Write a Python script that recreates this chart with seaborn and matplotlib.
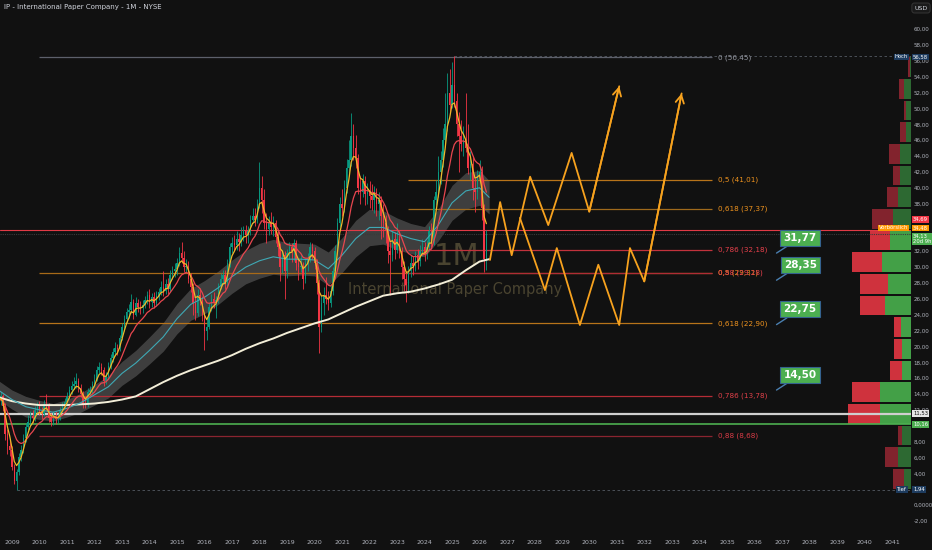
import numpy as np
import pandas as pd
import matplotlib
matplotlib.use("Agg")
import matplotlib.pyplot as plt
import matplotlib.transforms as mtransforms
import seaborn as sns

BG = "#111111"
sns.set_style("dark", {"axes.facecolor": BG, "figure.facecolor": BG})
plt.rcParams["font.family"] = ["DejaVu Sans"]

# ---- monthly candles, Jul 2008 .. Apr 2026 (open = previous close) ----
first_open = 12.5
closes = [
    13.2, 13.8, 12.5, 9.0, 7.5, 7.0,                                        # 2008 H2
    4.8, 3.0, 4.2, 6.0, 7.0, 8.5, 9.8, 10.5, 11.2, 11.0, 12.0, 12.4,         # 2009
    11.8, 11.5, 12.8, 12.5, 11.0, 10.5, 11.2, 10.8, 10.9, 12.0, 12.5, 13.0,  # 2010
    13.8, 14.5, 15.0, 15.2, 15.6, 14.8, 14.0, 12.8, 12.6, 14.3, 14.5, 15.3,  # 2011
    15.8, 17.0, 17.4, 17.0, 15.6, 16.2, 17.5, 18.5, 19.3, 19.8, 19.7, 21.0,  # 2012
    22.5, 23.5, 24.3, 24.6, 25.6, 24.0, 25.5, 25.0, 24.8, 25.2, 25.8, 26.5,  # 2013
    25.6, 26.2, 25.5, 26.4, 26.8, 27.5, 27.0, 27.9, 27.3, 29.0, 29.5, 29.8,  # 2014
    30.5, 31.8, 31.2, 30.0, 30.2, 28.5, 27.5, 25.5, 24.2, 26.5, 25.8, 24.0,  # 2015
    22.0, 22.5, 25.0, 26.0, 25.5, 25.8, 27.6, 28.5, 29.0, 28.0, 30.5, 32.5,  # 2016
    33.0, 32.8, 33.5, 33.2, 34.0, 34.5, 34.0, 34.5, 36.0, 36.5, 36.0, 38.0,  # 2017
    40.0, 38.5, 35.5, 34.8, 35.5, 35.0, 35.5, 33.8, 32.5, 30.0, 31.5, 29.5,  # 2018
    31.8, 32.5, 32.0, 33.0, 30.5, 30.0, 30.2, 28.5, 30.5, 31.0, 32.5, 32.0,  # 2019
    30.5, 28.0, 22.5, 25.5, 26.5, 26.0, 25.5, 27.0, 29.5, 32.0, 35.5, 38.0,  # 2020
    37.5, 40.0, 42.5, 43.5, 46.5, 45.0, 43.8, 40.0, 39.5, 40.8, 39.2, 39.5,  # 2021
    39.0, 38.5, 39.5, 38.0, 38.5, 36.5, 35.5, 34.5, 32.0, 31.5, 33.5, 32.2,  # 2022
    33.5, 32.0, 30.0, 28.5, 27.8, 29.5, 30.5, 30.2, 31.5, 30.8, 32.0, 32.5,  # 2023
    31.8, 32.5, 34.5, 33.0, 38.5, 39.5, 42.0, 43.5, 46.0, 48.0, 52.0, 50.5,  # 2024
    53.0, 51.0, 48.0, 46.5, 45.5, 46.0, 45.0, 42.5, 43.0, 40.0, 39.5, 41.5,  # 2025
    42.0, 37.5, 31.0, 34.13,                                                 # 2026
]
highs = [
    14.1, 14.3, 14.0, 12.9, 9.6, 8.3,
    7.4, 5.2, 4.5, 6.5, 7.6, 9.0, 10.3, 11.3, 11.9, 12.0, 12.5, 13.0,
    13.1, 12.3, 13.3, 14.0, 12.9, 11.6, 11.8, 11.9, 11.5, 12.4, 13.0, 13.5,
    14.3, 15.0, 15.6, 16.2, 16.6, 16.0, 15.3, 14.4, 13.6, 14.8, 15.0, 15.6,
    16.5, 17.5, 18.0, 17.9, 17.4, 16.8, 18.0, 19.0, 19.8, 20.5, 20.3, 21.4,
    23.0, 24.0, 24.9, 25.4, 26.6, 26.0, 26.2, 26.0, 25.7, 25.9, 26.3, 27.0,
    27.2, 26.7, 26.8, 27.0, 27.4, 28.2, 29.5, 28.5, 28.6, 29.6, 30.2, 30.5,
    31.2, 32.5, 33.2, 32.0, 31.0, 30.8, 29.2, 28.0, 26.2, 27.2, 27.4, 26.3,
    24.4, 23.5, 25.5, 26.6, 26.8, 26.4, 28.0, 29.2, 29.6, 29.6, 31.0, 33.0,
    33.8, 34.0, 34.5, 34.3, 35.0, 35.2, 35.3, 35.2, 36.6, 37.5, 37.4, 38.6,
    43.3, 41.5, 39.8, 36.8, 36.5, 37.0, 36.5, 36.0, 34.6, 33.0, 32.2, 32.0,
    32.3, 33.2, 33.0, 33.6, 33.4, 31.0, 31.5, 30.6, 31.0, 31.8, 33.2, 33.0,
    32.5, 31.0, 28.5, 26.5, 27.5, 28.8, 27.0, 27.8, 30.0, 32.8, 36.2, 38.8,
    39.8, 41.0, 43.6, 46.0, 49.4, 48.0, 46.6, 44.2, 41.5, 41.8, 41.5, 40.6,
    40.8, 40.5, 40.2, 40.0, 39.5, 39.0, 38.0, 36.6, 35.2, 33.2, 34.5, 34.4,
    35.5, 34.5, 32.5, 30.8, 29.5, 30.2, 31.5, 31.4, 32.0, 32.3, 32.8, 33.5,
    33.2, 33.4, 35.2, 35.5, 39.0, 41.0, 44.0, 44.6, 47.5, 52.0, 54.5, 55.0,
    55.8, 56.58, 52.0, 49.5, 48.5, 47.8, 52.0, 48.0, 44.6, 44.0, 41.2, 42.3,
    43.5, 42.8, 38.0, 34.7,
]
lows = [
    11.6, 12.6, 11.9, 8.2, 6.4, 6.2,
    4.4, 2.6, 1.94, 3.8, 5.6, 6.6, 8.0, 9.5, 10.0, 10.4, 10.6, 11.6,
    11.4, 10.9, 11.2, 12.0, 10.5, 10.0, 10.1, 10.2, 10.3, 10.7, 11.7, 12.2,
    12.7, 13.4, 14.0, 14.6, 14.8, 14.2, 13.6, 12.2, 12.2, 12.4, 13.6, 14.1,
    14.9, 15.6, 16.7, 16.4, 15.0, 15.2, 15.9, 17.1, 18.0, 18.8, 18.9, 19.4,
    20.8, 22.0, 23.0, 23.6, 24.2, 23.4, 23.8, 24.3, 24.1, 24.2, 24.9, 25.4,
    24.9, 25.0, 24.9, 25.1, 25.9, 26.5, 26.4, 26.6, 26.6, 26.8, 28.5, 28.7,
    29.0, 30.2, 30.5, 29.4, 29.4, 28.0, 26.8, 24.0, 23.3, 23.8, 25.2, 23.2,
    19.5, 20.8, 22.2, 24.5, 24.8, 23.6, 25.5, 27.2, 27.9, 27.2, 27.6, 30.0,
    31.8, 32.0, 32.2, 32.0, 32.6, 33.3, 33.0, 33.1, 34.0, 35.6, 35.2, 35.6,
    37.5, 36.8, 34.8, 33.0, 34.0, 34.2, 33.9, 33.0, 31.4, 28.2, 29.2, 26.0,
    28.6, 31.0, 30.6, 30.8, 29.6, 28.4, 29.4, 27.2, 28.0, 29.5, 30.6, 31.0,
    29.8, 26.6, 19.2, 21.8, 24.0, 25.4, 24.6, 25.0, 26.5, 29.0, 31.5, 35.0,
    36.4, 36.9, 39.4, 41.5, 42.8, 43.5, 42.5, 39.2, 38.0, 38.8, 37.8, 38.0,
    37.5, 37.2, 36.8, 36.5, 36.0, 33.5, 33.8, 33.0, 30.5, 26.5, 30.8, 31.0,
    31.8, 31.2, 28.5, 27.0, 25.6, 27.0, 28.8, 29.0, 29.5, 29.8, 30.2, 31.4,
    30.8, 31.0, 32.0, 32.5, 32.8, 37.8, 38.8, 40.5, 42.6, 45.2, 47.2, 49.5,
    50.0, 50.2, 46.5, 42.0, 44.6, 44.0, 44.5, 41.8, 41.0, 38.5, 37.0, 38.6,
    40.6, 36.0, 29.4, 29.6,
]

# slow moving averages (half-year points)
ma_t = [2008.5, 2009.0, 2009.5, 2010.0, 2010.5, 2011.0, 2011.5, 2012.0, 2012.5,
        2013.0, 2013.5, 2014.0, 2014.5, 2015.0, 2015.5, 2016.0, 2016.5, 2017.0,
        2017.5, 2018.0, 2018.5, 2019.0, 2019.5, 2020.0, 2020.5, 2021.0, 2021.5,
        2022.0, 2022.5, 2023.0, 2023.5, 2024.0, 2024.5, 2025.0, 2025.5, 2026.0,
        2026.35]
cyan_ma = [14.5, 13.3, 12.4, 12.0, 11.7, 12.2, 12.9, 13.9, 14.9, 16.6, 17.9, 19.5,
           21.2, 23.5, 25.3, 26.2, 27.4, 28.8, 30.0, 30.8, 31.3, 31.0, 31.0, 30.9,
           29.8, 31.5, 33.6, 35.0, 35.0, 34.2, 33.6, 33.2, 35.3, 38.1, 39.6, 40.0,
           38.8]
band_half = [1.2, 1.2, 1.3, 1.2, 1.1, 1.1, 1.2, 1.3, 1.4, 1.5, 1.6, 1.7, 1.8, 1.9,
             2.0, 2.1, 2.1, 2.1, 2.1, 2.2, 2.2, 2.1, 2.0, 2.0, 2.1, 2.2, 2.3, 2.3,
             2.1, 2.0, 1.9, 1.9, 2.0, 2.2, 2.3, 2.2, 2.1]
white_ma = [13.6, 13.1, 12.8, 12.6, 12.6, 12.6, 12.7, 12.8, 13.0, 13.3, 13.7, 14.6,
            15.5, 16.3, 17.0, 17.6, 18.2, 18.9, 19.7, 20.4, 21.0, 21.7, 22.3, 22.9,
            23.4, 24.2, 25.0, 25.7, 26.4, 26.7, 26.9, 27.3, 27.8, 28.4, 29.6, 30.7,
            31.0]

# fibonacci retracements
fib1_names = ["0,5", "0,618", "0,786", "0,88"]
fib1_prices = [41.01, 37.37, 32.18, 29.28]
fib2_names = ["0", "0,5", "0,618", "0,786", "0,88"]
fib2_prices = [56.45, 29.31, 22.90, 13.78, 8.68]

# projection paths
path_a_t = [2026.38, 2026.75, 2027.17, 2027.84, 2028.50, 2029.35, 2029.99, 2031.08]
path_a_v = [30.9, 38.2, 31.5, 41.4, 35.3, 44.4, 37.0, 52.8]
path_b_t = [2027.47, 2028.38, 2028.81, 2029.65, 2030.32, 2031.08, 2031.47, 2031.99, 2033.35]
path_b_v = [36.2, 27.1, 32.4, 22.7, 30.3, 22.7, 32.4, 28.2, 51.9]

callout_values = [31.77, 28.35, 22.75, 14.50]

# volume profile rows (bottom -> top), total and up volume
vp_total = [18.3, 26, 13.3, 62.7, 59, 20.7, 17.3, 16.7, 50.7, 50.7,
            59, 41, 38.7, 24, 18.3, 21.7, 10.7, 7.3, 12, 3]
vp_up = [7.3, 13.3, 8.7, 31.3, 30.7, 9.3, 9, 10, 25.7, 23.3,
         29.3, 20.7, 18, 12.7, 10.7, 11.3, 4.7, 4.7, 7.3, 1]

years = list(range(2009, 2042))

# ---------------------------------------------------------------------
W, H = 932, 550
fig = plt.figure(figsize=(W / 100, H / 100), dpi=100)
fig.patch.set_facecolor(BG)
bot = (H - 532) / H
ax = fig.add_axes([0, bot, 911 / W, 532 / H])
ax_vp = fig.add_axes([811 / W, bot, 100 / W, 532 / H])
ax.set_zorder(2)
ax_vp.set_zorder(1)
ax.patch.set_visible(False)
ax_vp.patch.set_visible(False)

YMIN, YMAX = -3.40, 63.68
ax.set_xlim(2008.564, 2041.69)
ax.set_ylim(YMIN, YMAX)
ax_vp.set_ylim(YMIN, YMAX)
ax_vp.set_xlim(100, 0)
ax_vp.axis("off")
for s in ax.spines.values():
    s.set_visible(False)
ax.grid(False)

df = pd.DataFrame({"close": closes, "high": highs, "low": lows})
df["open"] = [first_open] + closes[:-1]
df["t"] = 2008.5 + np.arange(len(df)) / 12.0
df["ema_fast"] = df["close"].ewm(span=4, adjust=False).mean()
df["ema_slow"] = df["close"].ewm(span=12, adjust=False).mean()

# watermark
ax.text(2025.18, 31.3, "1M", fontsize=22, color="#4a4430", ha="center", va="center", zorder=0.5)
ax.text(2025.1, 27.2, "International Paper Company", fontsize=10.5, color="#4a4430",
        ha="center", va="center", zorder=0.5)

# band + slow averages
lo_band = np.array(cyan_ma) - np.array(band_half)
hi_band = np.array(cyan_ma) + np.array(band_half)
ax.fill_between(ma_t, lo_band, hi_band, color="#8a8a8a", alpha=0.38, lw=0, zorder=1)

# horizontal levels
x_end_lines = 2034.45
for p, name in zip(fib2_prices, fib2_names):
    col = {"0": "#5d606b", "0,5": "#a86a18", "0,618": "#b8741a", "0,786": "#b52c36", "0,88": "#8a2430"}[name]
    tcol = {"0": "#9598a1", "0,5": "#ef931e", "0,618": "#ef931e", "0,786": "#e04049", "0,88": "#d93b46"}[name]
    ax.hlines(p, 2010.0, x_end_lines, color=col, lw=0.9, zorder=1.5)
    ax.text(2034.67, p, f"{name} ({p:.2f})".replace(".", ","), color=tcol, fontsize=5.2,
            va="center", ha="left", zorder=6)
for p, name in zip(fib1_prices, fib1_names):
    col = {"0,5": "#b8741a", "0,618": "#a06a1c", "0,786": "#c2323c", "0,88": "#b02c36"}[name]
    tcol = {"0,5": "#ef931e", "0,618": "#ef931e", "0,786": "#e8404b", "0,88": "#e8404b"}[name]
    ax.hlines(p, 2023.4, x_end_lines, color=col, lw=0.9, zorder=1.5)
    ax.text(2034.67, p, f"{name} ({p:.2f})".replace(".", ","), color=tcol, fontsize=5.2,
            va="center", ha="left", zorder=6)

ax.axhline(34.69, color="#e23a46", lw=0.8, zorder=1.6)
ax.axhline(34.13, color="#3a3a3a", lw=0.8, ls=(0, (1, 1)), zorder=1.6)
ax.axhline(11.53, color="#cfcfcf", lw=1.6, zorder=1.6)
ax.axhline(10.16, color="#4caf50", lw=1.2, zorder=1.6)
ax.hlines(56.58, 2025.08, 2041.69, color="#555a63", lw=0.6, ls=(0, (3, 3)), zorder=1.6)
ax.hlines(1.94, 2009.17, 2041.69, color="#555a63", lw=0.6, ls=(0, (3, 3)), zorder=1.6)

# candles
up = df["close"] >= df["open"]
cols = np.where(up, "#089981", "#f23645")
ax.vlines(df["t"], df["low"], df["high"], colors=cols, lw=0.6, zorder=3)
body_lo = np.minimum(df["open"], df["close"])
body_h = np.maximum(np.abs(df["close"] - df["open"]), 0.08)
ax.bar(df["t"], body_h, bottom=body_lo, width=0.6 / 12, color=cols, lw=0, zorder=3)

# moving averages
sns.lineplot(x=ma_t, y=white_ma, ax=ax, color="#f3eed8", lw=1.4, sort=False, zorder=4)
sns.lineplot(x=ma_t, y=cyan_ma, ax=ax, color="#3fa9b5", lw=0.8, sort=False, zorder=4)
sns.lineplot(data=df, x="t", y="ema_slow", ax=ax, color="#e8474f", lw=0.9, sort=False, zorder=4)
sns.lineplot(data=df, x="t", y="ema_fast", ax=ax, color="#f0b82a", lw=0.9, sort=False, zorder=4)

# projection zigzags
ORANGE = "#f7a21e"
for pt, pv in ((path_a_t, path_a_v), (path_b_t, path_b_v)):
    sns.lineplot(x=pt, y=pv, ax=ax, color=ORANGE, lw=1.3, sort=False, zorder=5)
    ax.annotate("", xy=(pt[-1], pv[-1]), xytext=(pt[-2], pv[-2]),
                arrowprops=dict(arrowstyle="->,head_length=0.55,head_width=0.3",
                                color=ORANGE, lw=1.3, shrinkA=0, shrinkB=0), zorder=5)

# callouts
for v in callout_values:
    ax.annotate(f"{v:.2f}".replace(".", ","), xy=(2036.8, v), xytext=(17, 11),
                textcoords="offset points", fontsize=7.5, fontweight="bold", color="white",
                ha="center", va="center", zorder=8,
                bbox=dict(boxstyle="square,pad=0.3", fc="#4caf50", ec="#34628f", lw=0.8),
                arrowprops=dict(arrowstyle="-", color="#4a7fb0", lw=1.0, shrinkA=0, shrinkB=0))

# volume profile
edges = np.linspace(1.94, 56.58, len(vp_total) + 1)
step = edges[1] - edges[0]
centers = edges[:-1] + step / 2
down = np.array(vp_total) - np.array(vp_up)
bright = np.array([3 <= i <= 11 for i in range(len(vp_total))])
g_col = np.where(bright, "#43a047", "#2d6932")
r_col = np.where(bright, "#cf323d", "#82232d")
ax_vp.barh(centers, vp_up, left=0, height=step * 0.92, color=g_col, lw=0)
ax_vp.barh(centers, down, left=vp_up, height=step * 0.92, color=r_col, lw=0)

# axes ticks
ax.set_xticks(years)
ax.set_xticklabels([str(y) for y in years])
ax.tick_params(axis="x", length=0, pad=6, labelsize=4.5, colors="#b2b5be")
yt = list(range(-2, 61, 2))
ax.yaxis.tick_right()
ax.set_yticks(yt)
ax.set_yticklabels(["0,0000" if v == 0 else f"{v:.2f}".replace(".", ",") for v in yt])
ax.tick_params(axis="y", length=0, pad=2, labelsize=4.0, colors="#b2b5be")
ax.set_xlabel("")
ax.set_ylabel("")

# price-axis tags
tr = mtransforms.blended_transform_factory(fig.transFigure, ax.transData)


def tag(x_px, v, text, fc, tc, ha="left"):
    ax.text(x_px / W, v, text, transform=tr, fontsize=3.8, color=tc, ha=ha, va="center",
            zorder=20, clip_on=False, linespacing=1.05,
            bbox=dict(boxstyle="square,pad=0.15", fc=fc, ec="none"))


tag(913, 56.5, "56,58", "#1d3b5e", "white")
tag(908, 56.5, "Hoch", "#1d3b5e", "white", ha="right")
tag(913, 36.0, "34,69", "#f23645", "white")
tag(913, 34.95, "34,48", "#ff9800", "white")
tag(908, 34.95, "Vorbörslich", "#ff9800", "white", ha="right")
tag(913, 33.5, "34,13\n20d 9h", "#4caf50", "white")
tag(913, 11.53, "11,53", "#e6e6e6", "#111111")
tag(913, 10.16, "10,16", "#4caf50", "white")
tag(913, 1.94, "1,94", "#1d3b5e", "white")
tag(907, 1.94, "Tief", "#1d3b5e", "white", ha="right")

fig.text(921 / W, 1 - 8 / H, "USD", fontsize=4.5, color="#d1d4dc", ha="center", va="center",
         bbox=dict(boxstyle="round,pad=0.4", fc="#1a1a1a", ec="#3a3a3a", lw=0.6))
fig.text(4 / W, 1 - 7 / H, "IP - International Paper Company - 1M - NYSE", fontsize=5,
         color="#d1d4dc", ha="left", va="center")

fig.savefig("out.png", dpi=100, facecolor=BG)
